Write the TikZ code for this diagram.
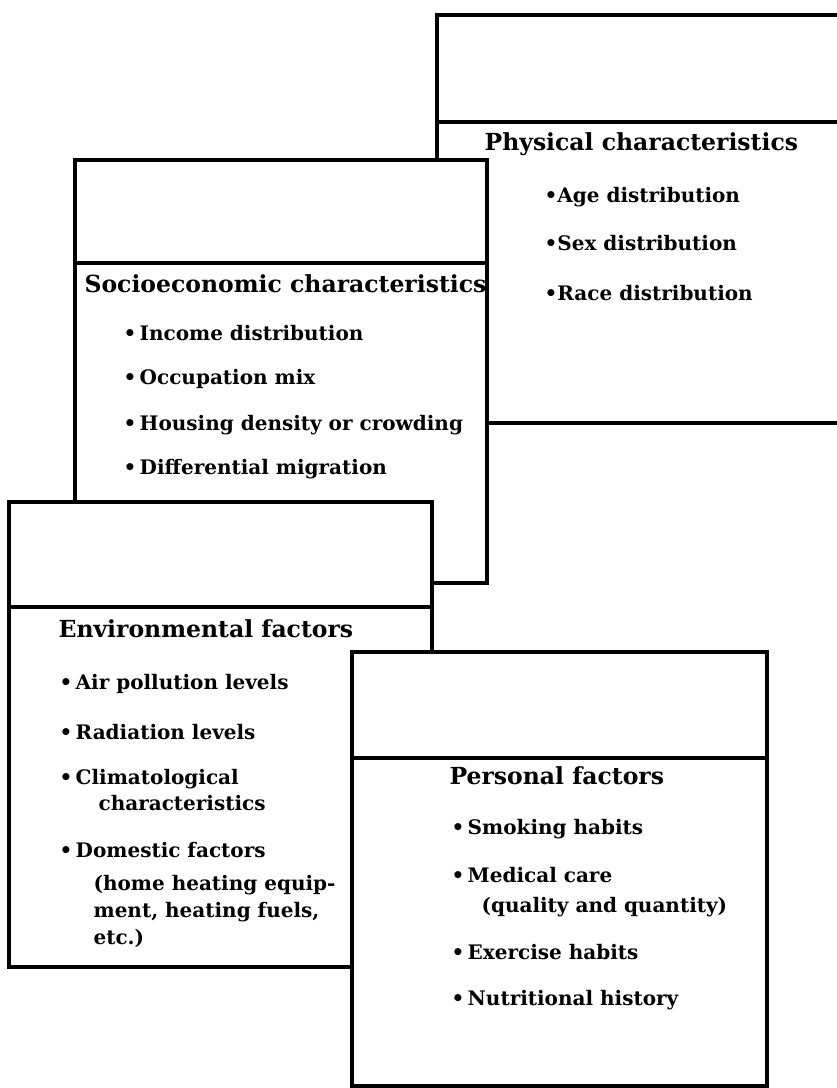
\documentclass[tikz,border=0pt]{standalone}
\usepackage{fontspec}
\setmainfont{DejaVu Serif}
\newcommand{\dotmark}{\textbullet}
\begin{document}
\begin{tikzpicture}[x=1pt, y=-1pt, line width=3.2pt,
    panel/.style={fill=white, draw=black},
    head/.style={anchor=base west, inner sep=0pt, font=\bfseries\fontsize{23.5}{28}\selectfont},
    item/.style={anchor=base west, inner sep=0pt, font=\bfseries\fontsize{20}{24}\selectfont}]
  \useasboundingbox (0, 0) rectangle (837, 1088);
  \clip (0, 0) rectangle (837, 1088);

  \draw[panel] (437, 15) rectangle (860, 423);
  \draw (437, 122) -- (860, 122);
  \node[head] (physhead) at (483, 150) {Physical characteristics};
  \foreach \Y/\T [count=\i] in {202/Age distribution, 250/Sex distribution, 300/Race distribution} {
    \node[item] (phys\i) at (543, \Y) {\dotmark\T};
  }

  \draw[panel] (75, 160) rectangle (487, 583);
  \draw (75, 263) -- (487, 263);
  \node[head] (sochead) at (83, 292) {Socioeconomic characteristics};
  \foreach \Y/\T [count=\i] in {340/Income distribution, 384/Occupation mix,
      430/Housing density or crowding, 474/Differential migration} {
    \node[item] (soc\i) at (122, \Y) {\dotmark\,\T};
  }

  \draw[panel] (9, 502) rectangle (432, 967);
  \draw (9, 607) -- (432, 607);
  \node[head] (envhead) at (57, 637) {Environmental factors};
  \foreach \Y/\T [count=\i] in {689/Air pollution levels, 739/Radiation levels,
      784/Climatological, 857/Domestic factors} {
    \node[item] (env\i) at (58, \Y) {\dotmark\,\T};
  }
  \node[item] (env3b) at (97, 810) {characteristics};
  \node[item] (env4b) at (92, 890) {(home heating equip-};
  \node[item] (env4c) at (92, 917) {ment, heating fuels,};
  \node[item] (env4d) at (92, 944) {etc.)};

  \draw[panel] (352, 652) rectangle (767, 1086);
  \draw (352, 758) -- (767, 758);
  \node[head] (perhead) at (448, 784) {Personal factors};
  \foreach \Y/\T [count=\i] in {834/Smoking habits, 882/Medical care,
      959/Exercise habits, 1005/Nutritional history} {
    \node[item] (per\i) at (450, \Y) {\dotmark\,\T};
  }
  \node[item] (per2b) at (480, 912) {(quality and quantity)};
\end{tikzpicture}
\end{document}
